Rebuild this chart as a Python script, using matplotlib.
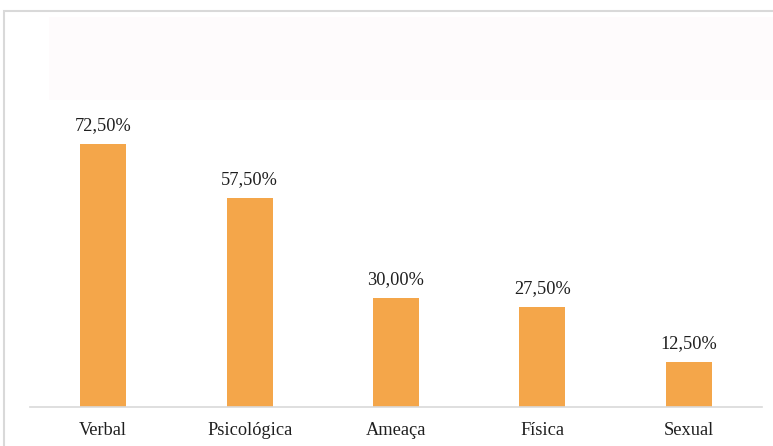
# Gráfico de barras: tipos de violência (percentual)
import matplotlib.pyplot as plt
from matplotlib.patches import Rectangle

categorias = ["Verbal", "Psicológica", "Ameaça", "Física", "Sexual"]
percentuais = [72.5, 57.5, 30.0, 27.5, 12.5]
rotulos = ["72,50%", "57,50%", "30,00%", "27,50%", "12,50%"]

plt.rcParams["font.family"] = ["Liberation Serif", "DejaVu Serif"]

W, H = 773, 446
fig = plt.figure(figsize=(W / 100, H / 100), dpi=100)
fig.patch.set_facecolor("white")

# moldura cinza clara e faixa de título vazia
fig.patches.append(Rectangle((4 / W, -0.1), 1.1, (H - 11) / H + 0.1, transform=fig.transFigure,
                             fill=False, edgecolor="#d9d9d9", linewidth=1.5))
fig.patches.append(Rectangle((49 / W, (H - 100) / H), (W - 49) / W, 83 / H, transform=fig.transFigure,
                             facecolor="#fefbfc", edgecolor="none"))

ax = fig.add_axes([30 / W, 39 / H, 732 / W, 290.4 / H])
x = range(len(categorias))
ax.bar(x, percentuais, width=0.314, color="#f4a64a", zorder=2)
ax.set_xlim(-0.5, len(categorias) - 0.5)
ax.set_ylim(0, 80)

for xi, v, txt in zip(x, percentuais, rotulos):
    ax.annotate(txt, (xi, v), xytext=(0, 7), textcoords="offset points",
                ha="center", va="bottom", fontsize=13.2, color="#1f1f1f")

ax.set_xticks(list(x))
ax.set_xticklabels(categorias, fontsize=13.2, color="#1f1f1f")
ax.tick_params(axis="x", length=0, pad=11)
ax.set_yticks([])
ax.set_facecolor("none")
for s in ["top", "right", "left"]:
    ax.spines[s].set_visible(False)
ax.spines["bottom"].set_color("#d9d9d9")
ax.spines["bottom"].set_linewidth(1.2)

fig.savefig("out.png", dpi=100, facecolor=fig.get_facecolor())
